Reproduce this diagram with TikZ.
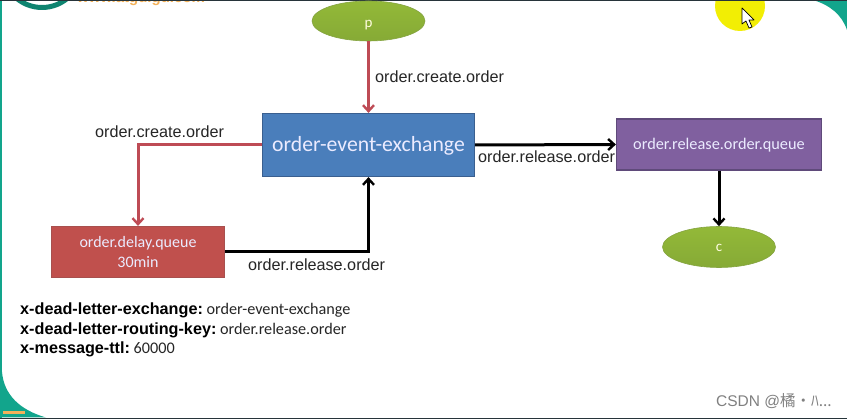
\documentclass[tikz,border=0pt]{standalone}
\usepackage{fontspec}
\setmainfont{Liberation Sans}
\newfontfamily\calib{Carlito}
\newfontfamily\cjkf{Noto Sans CJK SC}
\usetikzlibrary{arrows.meta,shapes.geometric}
\definecolor{tealb}{HTML}{12A58C}
\definecolor{darkb}{HTML}{27343A}
\definecolor{redline}{HTML}{BE4B55}
\definecolor{greenn}{HTML}{93B938}
\definecolor{greend}{HTML}{86AA36}
\definecolor{bluen}{HTML}{4A7EBB}
\definecolor{bluee}{HTML}{3A5F8F}
\definecolor{purplen}{HTML}{80609F}
\definecolor{purplee}{HTML}{5F4A7A}
\definecolor{redn}{HTML}{C0504D}
\definecolor{rede}{HTML}{A8504E}
\definecolor{txt}{HTML}{262626}
\definecolor{logoor}{HTML}{F4B25A}
\tikzset{
  x=1pt,y=-1pt,
  boxn/.style={rectangle,inner sep=0pt,line width=1.2pt,align=center,text=white!92!blue,font=\calib},
  ell/.style={ellipse,inner sep=0pt,top color=greenn,bottom color=greend,draw=greend!85!gray,line width=.6pt,text=white!88!yellow,font=\calib\fontsize{15}{15}\selectfont},
  lab/.style={inner sep=0pt,text=txt,font=\fontsize{16.2}{18}\selectfont},
  info/.style={inner sep=0pt,anchor=west,text=black},
  conn/.style={line width=3pt,-{Straight Barb[length=6pt,width=11pt,line width=2.4pt]}},
  redc/.style={conn,draw=redline},
  blackc/.style={conn,draw=black}
}
\newcommand{\bk}[1]{{\fontsize{16.2}{18}\selectfont\bfseries #1}}
\newcommand{\nm}[1]{{\calib\fontsize{16.2}{18}\selectfont\color{txt}#1}}
\begin{document}
\begin{tikzpicture}
\useasboundingbox (0,0) rectangle (847,419);
\fill[white] (0,0) rectangle (847,419);
% frame
\fill[tealb] (0,0) rectangle (2,419);
\fill[tealb] (0,372) -- (2,372) .. controls (4,395) and (20,410) .. (46,417.5) -- (0,417.5) -- cycle;
\fill[tealb] (813,0) .. controls (830,5) and (842,15) .. (847,30) -- (847,0) -- cycle;
\fill[logoor] (3,411) rectangle (25,414);
\fill[darkb] (0,0) rectangle (847,1.2);
\fill[darkb] (0,417.8) rectangle (847,419);
% logo remnant
\begin{scope}
\clip (0,1.2) rectangle (847,12);
\draw[tealb!80!black,line width=5pt] (42,-32) circle (39.5);
\node[inner sep=0pt,anchor=base west,text=logoor,font=\bfseries\fontsize{15}{15}\selectfont] (logo) at (77,2.5) {www.atguigu.com};
\end{scope}
% cursor highlight
\begin{scope}
\clip (0,1.2) rectangle (847,60);
\fill[yellow!95!green] (740,6) circle (25);
\end{scope}
\fill[white,draw=black,line width=.7pt,line join=round] (742,8) -- (742,24) -- (746,21) -- (749,28) -- (752,27) -- (749,20) -- (754,20) -- cycle;
% nodes
\node[ell,minimum width=113pt,minimum height=40pt] (p) at (368.5,21) {\raisebox{-7pt}[0pt][0pt]{p}};
\node[ell,minimum width=113pt,minimum height=41pt] (c) at (719,247) {\raisebox{-4.7pt}[0pt][0pt]{c}};
\node[boxn,fill=bluen,draw=bluee,minimum width=212pt,minimum height=63pt,font=\calib\fontsize{21.7}{24}\selectfont] (ex) at (368.5,145) {\raisebox{-7pt}[0pt][0pt]{order-event-exchange}};
\node[boxn,fill=purplen,draw=purplee,minimum width=205pt,minimum height=51pt,font=\calib\fontsize{16.3}{20}\selectfont] (rq) at (719,144.5) {\raisebox{-5pt}[0pt][0pt]{order.release.order.queue}};
\node[boxn,fill=redn,draw=rede,minimum width=173pt,minimum height=51pt,font=\calib\fontsize{16}{20}\selectfont] (dq) at (138,252) {\raisebox{-1pt}{order.delay.queue}\\[0pt]\raisebox{-1pt}{30min}};
% connectors
\draw[redc] (p.south) -- (ex.north);
\draw[redc] (ex.west) -| (dq.north);
\draw[blackc] (dq.east) -| (ex.south);
\draw[blackc] (ex.east) -- (rq.west);
\draw[blackc] (rq.south) -- (c.north);
% labels
\node[lab,anchor=west] (l1) at (375,77) {order.create.order};
\node[lab,anchor=west] (l2) at (95,132) {order.create.order};
\node[lab,anchor=west] (l3) at (478,156.5) {order.release.order};
\node[lab,anchor=west] (l4) at (248,265) {order.release.order};
% info
\node[info] (i1) at (20,310) {\bk{x-dead-letter-exchange:} \nm{order-event-exchange}};
\node[info] (i2) at (20,330) {\bk{x-dead-letter-routing-key:} \nm{order.release.order}};
\node[info] (i3) at (20,349.5) {\bk{x-message-ttl:} \nm{60000}};
% watermark
\node[inner sep=0pt,anchor=east,text=gray,font=\fontsize{15.5}{17}\selectfont] (wm) at (832,401) {CSDN @{\cjkf 橘·ﾊ...}};
\end{tikzpicture}
\end{document}
